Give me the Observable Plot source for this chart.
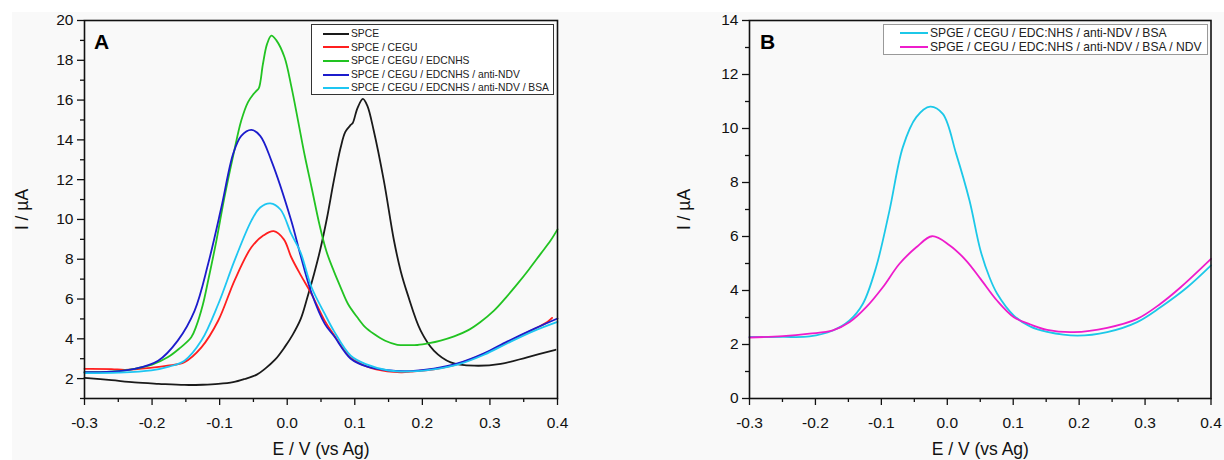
<!DOCTYPE html>
<html>
<head>
<meta charset="utf-8">
<script src="https://cdn.jsdelivr.net/npm/d3@7"></script>
<script src="https://cdn.jsdelivr.net/npm/@observablehq/plot@0.6"></script>
<style>
  body { margin: 0; background: #fff; }
  #wrap { position: relative; width: 1224px; height: 460px; overflow: hidden; font-family: "Liberation Sans", Arial, sans-serif; }
  #bg { position: absolute; left: 12px; top: 12px; right: 0; bottom: 0; background: #f9f9f9; }
  .panel { position: absolute; top: 0; }
  .panel svg [aria-label$="tick label"] { font-size: 15.5px; }
  .panel svg [aria-label$="axis label"] { font-size: 17.5px; }
  .legend { position: absolute; background: #fff; box-sizing: border-box; }
  .legend .row { display: flex; align-items: center; white-space: nowrap; color: #222; }
  .legend .sw { display: inline-block; height: 2px; margin-right: 2px; }
  .letter { position: absolute; font-weight: bold; font-size: 21px; color: #000; }
</style>
</head>
<body>
<div id="wrap">
  <div id="bg"></div>
  <div id="A" class="panel" style="left:0"></div>
  <div id="B" class="panel" style="left:612px"></div>
  <div class="letter" style="left:94px;top:30px">A</div>
  <div class="letter" style="left:760px;top:30px">B</div>
  <div id="legA" class="legend" style="left:311px;top:24px;width:243px;height:71px;border:1.3px solid #333;padding:2px 0 0 11px;font-size:10.3px;line-height:13.6px;"></div>
  <div id="legB" class="legend" style="left:883px;top:24px;width:325px;height:31px;border:1.3px solid #999;padding:1px 0 0 16px;font-size:12.1px;line-height:14px;"></div>
</div>
<script>
// ---------- Panel A data ----------
const namesA = ["SPCE", "SPCE / CEGU", "SPCE / CEGU / EDCNHS", "SPCE / CEGU / EDCNHS / anti-NDV", "SPCE / CEGU / EDCNHS / anti-NDV / BSA"];
const colorsA = ["#1a1a1a", "#ff1f1f", "#22c322", "#1c1ccc", "#1ec6f2"];

const spceE = [-0.300, -0.260, -0.226, -0.190, -0.152, -0.125, -0.102, -0.080, -0.063, -0.045, -0.033, -0.018, -0.004, 0.008, 0.020, 0.030, 0.040, 0.049, 0.059, 0.069, 0.079, 0.086, 0.094, 0.097, 0.104, 0.112, 0.1185, 0.128, 0.143, 0.158, 0.168, 0.178, 0.1975, 0.217, 0.242, 0.2765, 0.316, 0.355, 0.397];
const spceI = [2.04, 1.92, 1.81, 1.74, 1.68, 1.69, 1.73, 1.82, 1.98, 2.20, 2.49, 2.95, 3.57, 4.20, 5.00, 6.10, 7.30, 8.50, 10.10, 11.95, 13.60, 14.40, 14.75, 14.85, 15.60, 16.06, 15.72, 14.47, 11.95, 8.94, 7.40, 6.26, 4.41, 3.41, 2.82, 2.65, 2.74, 3.07, 3.45];

const cegE = [-0.300, -0.260, -0.240, -0.200, -0.177, -0.152, -0.127, -0.102, -0.078, -0.053, -0.035, -0.020, -0.005, 0.006, 0.020, 0.036, 0.0556, 0.069, 0.094, 0.1185, 0.148, 0.170, 0.183, 0.217, 0.252, 0.2913, 0.326, 0.360, 0.385, 0.392];
const cegI = [2.49, 2.48, 2.44, 2.55, 2.65, 2.83, 3.57, 4.92, 6.93, 8.60, 9.20, 9.41, 9.00, 8.10, 7.20, 6.25, 4.90, 4.20, 3.05, 2.60, 2.36, 2.32, 2.35, 2.47, 2.73, 3.24, 3.83, 4.40, 4.85, 5.05];

const edcE = [-0.300, -0.260, -0.226, -0.200, -0.177, -0.160, -0.142, -0.135, -0.125, -0.117, -0.105, -0.093, -0.080, -0.068, -0.058, -0.050, -0.046, -0.042, -0.036, -0.030, -0.0235, -0.016, -0.004, 0.006, 0.016, 0.026, 0.036, 0.048, 0.058, 0.069, 0.079, 0.090, 0.1037, 0.115, 0.128, 0.145, 0.163, 0.180, 0.1925, 0.210, 0.227, 0.247, 0.2666, 0.286, 0.306, 0.323, 0.3407, 0.358, 0.375, 0.390, 0.400];
const edcI = [2.32, 2.35, 2.49, 2.70, 3.07, 3.50, 4.08, 4.60, 5.70, 6.93, 8.90, 11.10, 13.20, 14.97, 15.90, 16.30, 16.45, 16.60, 17.80, 18.80, 19.24, 19.00, 18.15, 16.70, 14.97, 13.20, 11.62, 9.70, 8.40, 7.40, 6.59, 5.75, 5.08, 4.60, 4.25, 3.90, 3.70, 3.68, 3.69, 3.78, 3.91, 4.12, 4.41, 4.85, 5.42, 6.05, 6.76, 7.50, 8.27, 8.95, 9.50];

const ndvE = [-0.300, -0.260, -0.226, -0.191, -0.162, -0.137, -0.117, -0.0975, -0.080, -0.068, -0.053, -0.040, -0.0235, 0.006, 0.0197, 0.036, 0.0556, 0.069, 0.094, 0.1185, 0.148, 0.183, 0.217, 0.252, 0.2913, 0.326, 0.3653, 0.400];
const ndvI = [2.32, 2.35, 2.49, 2.90, 3.91, 5.42, 7.77, 10.60, 13.30, 14.20, 14.50, 14.20, 12.96, 9.94, 8.20, 6.30, 4.75, 4.15, 3.00, 2.60, 2.42, 2.38, 2.50, 2.76, 3.27, 3.87, 4.50, 5.02];

const bsaE = [-0.300, -0.250, -0.201, -0.175, -0.152, -0.127, -0.102, -0.078, -0.053, -0.040, -0.025, -0.010, 0.006, 0.0197, 0.036, 0.0556, 0.069, 0.094, 0.1185, 0.148, 0.183, 0.217, 0.252, 0.2913, 0.326, 0.3653, 0.400];
const bsaI = [2.28, 2.30, 2.41, 2.60, 2.90, 3.91, 5.75, 7.93, 9.94, 10.60, 10.81, 10.50, 9.27, 8.35, 6.59, 5.25, 4.40, 3.15, 2.70, 2.42, 2.36, 2.46, 2.70, 3.20, 3.78, 4.40, 4.85];

// ---------- Panel B data ----------
const namesB = ["SPGE / CEGU / EDC:NHS / anti-NDV / BSA", "SPGE / CEGU / EDC:NHS / anti-NDV / BSA / NDV"];
const colorsB = ["#1cc8e8", "#ee1ccb"];

const bBsaE = [-0.300, -0.2494, -0.209, -0.1736, -0.1483, -0.128, -0.108, -0.0877, -0.0674, -0.047, -0.026, -0.0068, 0.0135, 0.0337, 0.0504, 0.064, 0.0757, 0.101, 0.1262, 0.1515, 0.197, 0.2425, 0.288, 0.3234, 0.364, 0.400];
const bBsaI = [2.28, 2.28, 2.30, 2.52, 2.89, 3.51, 4.86, 6.96, 9.31, 10.42, 10.81, 10.54, 9.06, 7.33, 5.48, 4.49, 3.88, 3.07, 2.66, 2.47, 2.33, 2.46, 2.83, 3.38, 4.12, 4.93];

const bNdvE = [-0.300, -0.2494, -0.209, -0.1736, -0.148, -0.123, -0.0978, -0.0725, -0.047, -0.023, 0.0033, 0.0286, 0.0504, 0.0757, 0.101, 0.1262, 0.1515, 0.192, 0.2425, 0.288, 0.3234, 0.354, 0.400];
const bNdvI = [2.26, 2.31, 2.40, 2.52, 2.83, 3.38, 4.12, 4.99, 5.60, 6.01, 5.68, 5.11, 4.43, 3.62, 3.01, 2.74, 2.54, 2.46, 2.62, 2.95, 3.51, 4.12, 5.17];

// ---------- ticks ----------
const xMajor = [-0.3, -0.2, -0.1, 0.0, 0.1, 0.2, 0.3, 0.4];
const xMinor = [-0.25, -0.15, -0.05, 0.05, 0.15, 0.25, 0.35];
const yMajorA = [2, 4, 6, 8, 10, 12, 14, 16, 18, 20];
const yMinorA = [1, 3, 5, 7, 9, 11, 13, 15, 17, 19];
const yMajorB = [0, 2, 4, 6, 8, 10, 12, 14];
const yMinorB = [1, 3, 5, 7, 9, 11, 13];

function rows(names, Es, Is) {
  return names.flatMap((name, k) => Es[k].map((e, i) => ({E: e, I: Is[k][i], name})));
}

function panel({data, names, colors, yDomain, yMajor, yMinor, marginLeft, marginRight, yLabelOffset}) {
  return Plot.plot({
    width: 612, height: 460,
    marginTop: 20, marginBottom: 62, marginLeft, marginRight,
    style: {background: "transparent", overflow: "visible", fontFamily: "'Liberation Sans', Arial, sans-serif", fontSize: "15px", color: "#111"},
    x: {domain: [-0.3, 0.4], label: null},
    y: {domain: yDomain, label: null},
    color: {domain: names, range: colors},
    marks: [
      Plot.axisX(xMinor, {tickSize: 4, tickFormat: () => "", label: null, strokeWidth: 1.3}),
      Plot.axisX(xMajor, {tickSize: 7, tickPadding: 11, tickFormat: d => d.toFixed(1), label: null, strokeWidth: 1.3}),
      Plot.axisX({ticks: [], tickSize: 0, label: "E / V (vs Ag)", labelAnchor: "center", labelArrow: "none", labelOffset: 56}),
      Plot.axisY(yMinor, {tickSize: 4, tickFormat: () => "", label: null, strokeWidth: 1.3}),
      Plot.axisY(yMajor, {tickSize: 7, tickPadding: 4, tickFormat: d => String(d), label: null, strokeWidth: 1.3}),
      Plot.axisY({ticks: [], tickSize: 0, label: "I / µA", labelAnchor: "center", labelArrow: "none", labelOffset: yLabelOffset}),
      Plot.line(data, {x: "E", y: "I", z: "name", stroke: "name", strokeWidth: 1.8, curve: "catmull-rom"}),
      Plot.frame({stroke: "#111", strokeWidth: 1.6})
    ]
  });
}

document.getElementById("A").append(panel({
  data: rows(namesA, [spceE, cegE, edcE, ndvE, bsaE], [spceI, cegI, edcI, ndvI, bsaI]),
  names: namesA, colors: colorsA, yDomain: [1, 20], yMajor: yMajorA, yMinor: yMinorA,
  marginLeft: 84, marginRight: 55, yLabelOffset: 69
}));
document.getElementById("B").append(panel({
  data: rows(namesB, [bBsaE, bNdvE], [bBsaI, bNdvI]),
  names: namesB, colors: colorsB, yDomain: [0, 14], yMajor: yMajorB, yMinor: yMinorB,
  marginLeft: 137, marginRight: 13.5, yLabelOffset: 72
}));

function legend(id, names, colors, swatchW) {
  const el = document.getElementById(id);
  names.forEach((n, i) => {
    const r = document.createElement("div");
    r.className = "row";
    const s = document.createElement("span");
    s.className = "sw";
    s.style.width = swatchW + "px";
    s.style.background = colors[i];
    r.append(s, document.createTextNode(n));
    el.append(r);
  });
}
legend("legA", namesA, colorsA, 26);
legend("legB", namesB, colorsB, 28);
</script>
</body>
</html>
